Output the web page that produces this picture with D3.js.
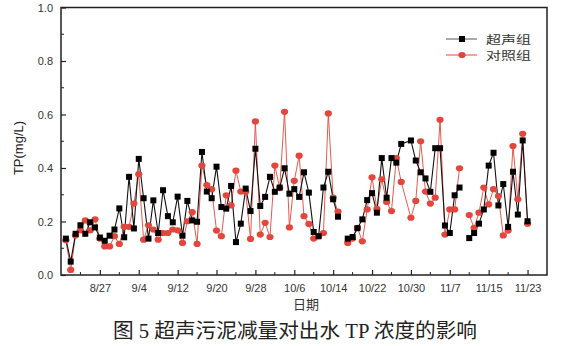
<!DOCTYPE html>
<html><head><meta charset="utf-8">
<script src="https://cdn.jsdelivr.net/npm/d3@7"></script>
<style>
html,body{margin:0;padding:0;background:#fff;}
svg{display:block;}
</style></head>
<body>
<svg id="chart" width="575" height="346"></svg>
<script>
// ---- data ----
const dates = ["8/20","8/21","8/22","8/23","8/24","8/25","8/26","8/27","8/28","8/29","8/30","8/31",
"9/1","9/2","9/3","9/4","9/5","9/6","9/7","9/8","9/9","9/10","9/11","9/12","9/13","9/14","9/15","9/16",
"9/17","9/18","9/19","9/20","9/21","9/22","9/23","9/24","9/25","9/26","9/27","9/28","9/29","9/30",
"10/1","10/2","10/3","10/4","10/5","10/6","10/7","10/8","10/9","10/10","10/11","10/12","10/13","10/14",
"10/15","10/16","10/17","10/18","10/19","10/20","10/21","10/22","10/23","10/24","10/25","10/26","10/27",
"10/28","10/30","10/31","11/1","11/2","11/3","11/4","11/5","11/6","11/7","11/8","11/9","11/10","11/11",
"11/12","11/13","11/14","11/15","11/16","11/17","11/18","11/19","11/20","11/21","11/22","11/23"];
const ultrasonic = [0.136,0.050,0.154,0.186,0.154,0.197,0.178,0.140,0.128,0.147,0.170,0.249,
0.141,0.367,0.174,0.434,0.287,0.136,0.279,0.157,0.317,0.220,0.197,0.293,0.147,0.277,0.204,0.199,
0.460,0.312,0.287,0.405,0.254,0.248,0.333,0.123,0.192,0.323,0.239,0.472,0.258,0.292,
0.367,0.311,0.327,0.399,0.304,0.321,0.292,0.384,0.308,0.161,0.145,0.327,0.386,0.283,
0.218,null,0.136,0.142,0.175,0.208,0.280,0.306,0.233,0.437,0.289,0.437,0.420,
0.490,0.503,0.428,0.384,0.361,0.311,0.474,0.474,0.185,0.157,0.298,0.327,null,0.138,
0.157,0.192,0.245,0.409,0.457,0.260,0.340,0.180,0.386,0.226,0.503,0.201];
const control = [0.130,0.019,0.148,0.167,0.204,0.167,0.208,0.136,0.107,0.107,0.145,0.116,
0.180,0.180,0.267,0.377,0.132,0.186,0.170,0.132,0.157,0.157,0.170,0.167,0.120,0.201,0.235,0.116,
0.409,0.336,0.321,0.166,0.145,0.298,0.260,0.390,0.312,0.311,0.135,0.574,0.151,0.195,
0.142,0.409,0.325,0.610,0.178,0.352,0.446,0.220,0.191,0.136,0.145,0.157,0.604,0.289,
0.237,null,0.120,0.136,0.176,0.126,0.245,0.365,0.247,0.358,0.273,0.239,0.437,
0.348,0.214,0.277,0.500,0.312,0.267,0.289,0.580,0.151,0.245,0.245,0.399,null,0.224,
0.176,0.233,0.327,0.264,0.321,0.295,0.148,0.166,0.482,0.283,0.528,0.192];
const xTickLabels = ["8/27","9/4","9/12","9/20","9/28","10/6","10/14","10/22","10/30","11/7","11/15","11/23"];
const yTicks = [0,0.2,0.4,0.6,0.8,1.0];
const seriesNames = ["超声组","对照组"];
const YEAR = 2013;

// ---- setup ----
const svg = d3.select("#chart");
const parse = s => { const [m,d] = s.split("/").map(Number); return new Date(YEAR, m-1, d); };
const L = 61, R = 547, T = 7.5, B = 275;
const x = d3.scaleTime().domain([parse("8/19"), parse("11/27")]).range([L, R]);
const y = d3.scaleLinear().domain([0, 1]).range([B, T]);

const axisColor = "#222";
const tickFont = "Liberation Sans, Arial, sans-serif";

// x axis ticks (inside)
const majorDates = xTickLabels.map(parse);
const minorDates = majorDates.map(d => d3.timeDay.offset(d, -4)).concat([d3.timeDay.offset(majorDates[majorDates.length-1], 4)])
  .filter(d => x(d) > L && x(d) < R);
const xAxis = d3.axisBottom(x).tickValues(majorDates).tickSize(-5).tickPadding(9)
  .tickFormat((d,i) => xTickLabels[i]);
const gx = svg.append("g").attr("transform", `translate(0,${B})`).call(xAxis);
gx.select(".domain").remove();
gx.selectAll(".tick line").attr("stroke", axisColor).attr("stroke-width", 1.2);
gx.selectAll("text").attr("font-family", tickFont).attr("font-size", 11).attr("fill", "#333");
svg.append("g").selectAll("line").data(minorDates).join("line")
  .attr("x1", d => x(d)).attr("x2", d => x(d)).attr("y1", B).attr("y2", B-3)
  .attr("stroke", axisColor).attr("stroke-width", 1);

// y axis
const yAxis = d3.axisLeft(y).tickValues(yTicks).tickSize(-5).tickPadding(8).tickFormat(d3.format(".1f"));
const gy = svg.append("g").attr("transform", `translate(${L},0)`).call(yAxis);
gy.select(".domain").remove();
gy.selectAll(".tick line").attr("stroke", axisColor).attr("stroke-width", 1.2);
gy.selectAll("text").attr("font-family", tickFont).attr("font-size", 11).attr("fill", "#333");
svg.append("g").selectAll("line").data([0.1,0.3,0.5,0.7,0.9]).join("line")
  .attr("x1", L).attr("x2", L+3).attr("y1", d => y(d)).attr("y2", d => y(d))
  .attr("stroke", axisColor).attr("stroke-width", 1);

// frame
svg.append("rect").attr("x", L).attr("y", T).attr("width", R-L).attr("height", B-T)
  .attr("fill", "none").attr("stroke", axisColor).attr("stroke-width", 1.5);

// series
const red = "#e2463c";
const mk = (vals) => dates.map((d,i) => ({date: parse(d), v: vals[i]}));
const dataU = mk(ultrasonic), dataC = mk(control);
const line = d3.line().defined(d => d.v != null).x(d => x(d.date)).y(d => y(d.v));

svg.append("path").datum(dataC).attr("d", line).attr("fill", "none").attr("stroke", red).attr("stroke-width", 0.9);
svg.append("path").datum(dataU).attr("d", line).attr("fill", "none").attr("stroke", "#111").attr("stroke-width", 1.1);

svg.append("g").selectAll("ellipse").data(dataC.filter(d => d.v != null)).join("ellipse")
  .attr("cx", d => x(d.date)).attr("cy", d => y(d.v)).attr("rx", 3.6).attr("ry", 3.1).attr("fill", red);
svg.append("g").selectAll("rect").data(dataU.filter(d => d.v != null)).join("rect")
  .attr("x", d => x(d.date)-3).attr("y", d => y(d.v)-3).attr("width", 6).attr("height", 6).attr("fill", "#000");

// legend
const lg = svg.append("g");
const legendRows = [{name: seriesNames[0], color: "#555", shape: "rect", y: 39},
                    {name: seriesNames[1], color: red, shape: "circle", y: 55}];
legendRows.forEach(r => {
  lg.append("line").attr("x1", 446).attr("x2", 477).attr("y1", r.y).attr("y2", r.y)
    .attr("stroke", r.color).attr("stroke-width", 1);
  if (r.shape === "rect") lg.append("rect").attr("x", 459).attr("y", r.y-3).attr("width", 6).attr("height", 6).attr("fill", "#000");
  else lg.append("ellipse").attr("cx", 462).attr("cy", r.y).attr("rx", 3.6).attr("ry", 3.1).attr("fill", red);
  lg.append("text").attr("x", 486).attr("y", r.y + 4.5).text(r.name)
    .attr("textLength", 45).attr("lengthAdjust", "spacingAndGlyphs")
    .attr("font-family", "Noto Sans CJK SC, sans-serif").attr("font-size", 11).attr("fill", "#333");
});

// axis titles
svg.append("text").attr("x", 306).attr("y", 309).attr("text-anchor", "middle").text("日期")
  .attr("font-family", "Noto Sans CJK SC, sans-serif").attr("font-size", 13).attr("fill", "#333");
svg.append("text").attr("transform", "translate(23,148) rotate(-90)").attr("text-anchor", "middle")
  .text("TP(mg/L)").attr("font-family", tickFont).attr("font-size", 13).attr("fill", "#222");

// caption
svg.append("text").attr("x", 295).attr("y", 338).attr("text-anchor", "middle")
  .text("图 5 超声污泥减量对出水 TP 浓度的影响")
  .attr("textLength", 364).attr("lengthAdjust", "spacingAndGlyphs")
  .attr("font-family", "Liberation Serif, Times New Roman, Noto Sans CJK SC, serif").attr("font-size", 20).attr("fill", "#222");
</script>
</body></html>
